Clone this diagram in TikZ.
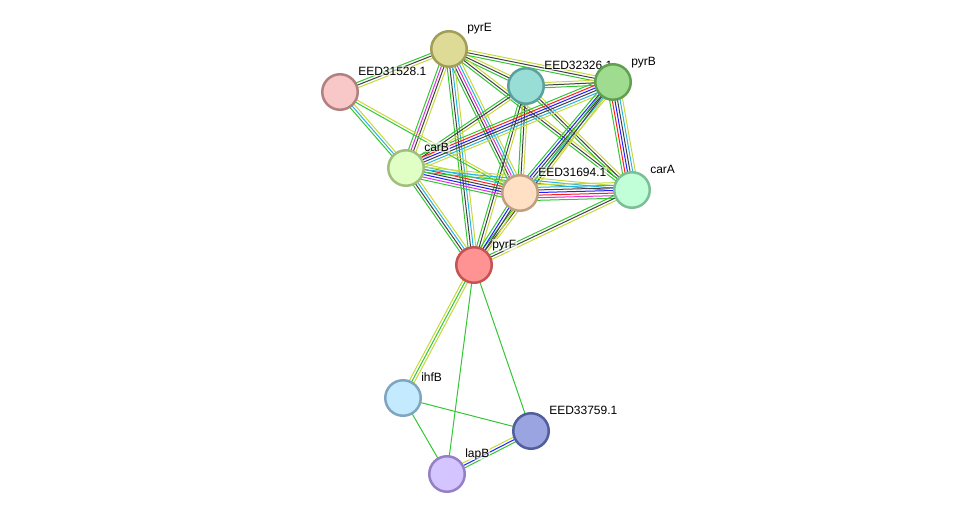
\documentclass[tikz,border=0pt]{standalone}
\usepackage{fontspec}
\setmainfont{Liberation Sans}
\usetikzlibrary{calc,backgrounds}

% evidence channels
\definecolor{nb}{RGB}{52,199,52}
\definecolor{fu}{RGB}{255,30,30}
\definecolor{cc}{RGB}{30,30,255}
\definecolor{ce}{RGB}{64,64,64}
\definecolor{ex}{RGB}{225,50,225}
\definecolor{db}{RGB}{40,180,225}
\definecolor{tm}{RGB}{198,216,60}
% proteins
\definecolor{fpyrE}{RGB}{221,219,150}\definecolor{dpyrE}{RGB}{160,158,90}
\definecolor{f1528}{RGB}{248,200,200}\definecolor{d1528}{RGB}{178,128,128}
\definecolor{f2326}{RGB}{152,222,214}\definecolor{d2326}{RGB}{90,160,156}
\definecolor{fpyrB}{RGB}{160,220,144}\definecolor{dpyrB}{RGB}{96,160,82}
\definecolor{fcarB}{RGB}{224,255,196}\definecolor{dcarB}{RGB}{162,190,126}
\definecolor{f1694}{RGB}{255,224,196}\definecolor{d1694}{RGB}{190,160,128}
\definecolor{fcarA}{RGB}{192,255,216}\definecolor{dcarA}{RGB}{126,190,150}
\definecolor{fpyrF}{RGB}{255,146,146}\definecolor{dpyrF}{RGB}{196,84,84}
\definecolor{fihfB}{RGB}{196,234,255}\definecolor{dihfB}{RGB}{126,166,192}
\definecolor{f3759}{RGB}{154,164,224}\definecolor{d3759}{RGB}{82,94,156}
\definecolor{flapB}{RGB}{212,196,255}\definecolor{dlapB}{RGB}{148,128,196}

\begin{document}
\begin{tikzpicture}[
  x=1pt,y=-1pt,
  prot/.style={circle,draw,line width=2.5pt,minimum size=35.5pt,inner sep=0},
  lbl/.style={anchor=base west,font=\fontsize{12}{14}\selectfont,inner sep=0.6pt,
    fill=white,fill opacity=.6,text opacity=1},
  chan/.style={line width=1pt},
]
  \useasboundingbox (0,0) rectangle (976,519);

  \foreach \n/\x/\y/\fc/\dc/\t in {pyrE/449/49/fpyrE/dpyrE/pyrE,
      e1528/340/92/f1528/d1528/EED31528.1, e2326/526/86/f2326/d2326/EED32326.1,
      pyrB/613/82/fpyrB/dpyrB/pyrB, carB/406/168/fcarB/dcarB/carB,
      e1694/520/193/f1694/d1694/EED31694.1, carA/632/190/fcarA/dcarA/carA,
      pyrF/474/265/fpyrF/dpyrF/pyrF, ihfB/403/398/fihfB/dihfB/ihfB,
      e3759/531/431/f3759/d3759/EED33759.1, lapB/447/474/flapB/dlapB/lapB} {
    \node[prot,fill=\fc,draw=\dc] (\n) at (\x,\y) {};
    \node[lbl] (\n-l) at (\x+17.5,\y-17) {\t};
  }

  \begin{scope}[on background layer]
  \foreach \a/\b/\cols in {pyrE/e1528/{nb,ce,tm}, pyrE/e2326/{nb,ce,tm},
      pyrE/pyrB/{nb,ce,tm}, pyrE/carB/{nb,ex,ce,tm}, pyrE/e1694/{nb,ce,ex,db,tm},
      pyrE/carA/{nb,ce,tm}, pyrE/pyrF/{nb,ce,db,tm},
      e1528/carB/{nb,db,tm}, e1528/e1694/{nb,tm},
      e2326/pyrB/{nb,ce,tm}, e2326/carB/{nb,ce,tm}, e2326/e1694/{nb,ce,tm},
      e2326/carA/{nb,ce,tm}, e2326/pyrF/{nb,ce,tm},
      pyrB/carB/{nb,fu,cc,ce,db,tm}, pyrB/e1694/{nb,cc,ce,db,tm},
      pyrB/carA/{nb,fu,cc,ce,db,tm}, pyrB/pyrF/{nb,ce,tm},
      carB/e1694/{nb,ex,cc,ce,fu,db,tm}, carB/carA/{nb,db,tm},
      carB/pyrF/{nb,ce,db,tm},
      e1694/carA/{nb,ex,fu,cc,ce,db,tm}, e1694/pyrF/{nb,cc,ce,tm},
      carA/pyrF/{nb,ce,tm},
      pyrF/ihfB/{tm,nb,tm}, pyrF/lapB/{nb}, pyrF/e3759/{nb},
      ihfB/e3759/{nb}, ihfB/lapB/{nb}, lapB/e3759/{nb,cc,tm}} {
    \foreach \col [count=\j] in \cols {\xdef\nch{\j}}
    \foreach \col [count=\i] in \cols {
      \pgfmathsetmacro\off{(\i-(\nch+1)/2)*2.6}
      \draw[chan,\col] ($(\a)!\off pt!90:(\b)$) -- ($(\b)!\off pt!-90:(\a)$);
    }
  }
  \end{scope}
\end{tikzpicture}
\end{document}
